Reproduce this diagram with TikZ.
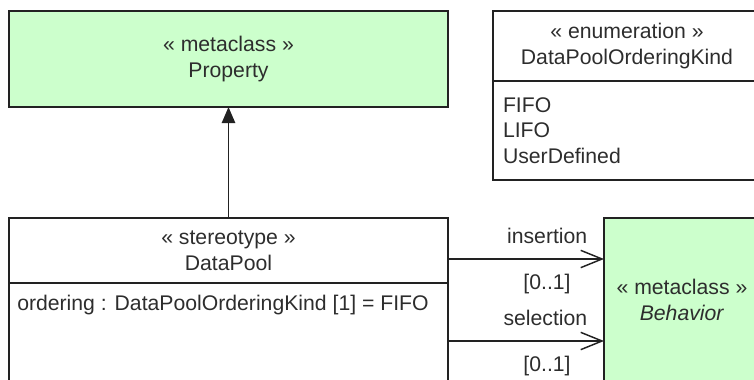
\documentclass[tikz,border=0pt]{standalone}
\usepackage{fontspec}
\setmainfont{Liberation Sans}
\usepackage{tikz}
\usetikzlibrary{arrows.meta,calc,positioning}
\usepackage{xcolor}

\definecolor{umlgreen}{RGB}{204,255,204}
\definecolor{umlline}{RGB}{34,34,34}
\definecolor{umltext}{RGB}{45,45,45}

\begin{document}
\begin{tikzpicture}[x=0.75pt, y=-0.75pt,
  every node/.style={font=\fontsize{15.9pt}{19.2pt}\selectfont, text=umltext},
  box/.style={draw=umlline, line width=1.1pt, inner sep=0pt, outer sep=0pt, align=center},
  meta/.style={box, fill=umlgreen},
  gen/.style={draw=umlline, line width=1.1pt, -{Triangle[length=12pt,width=10pt]}},
  assoc/.style={draw=umlline, line width=1.1pt, -{Straight Barb[length=16pt,width=13pt]}},
  role/.style={inner sep=0pt, anchor=base east, xshift=-12pt, yshift=11.5pt},
  mult/.style={inner sep=0pt, anchor=north, yshift=-10.5pt}]

\useasboundingbox (0,0) rectangle (754,379);
\clip (0,0) rectangle (754,379);

% --- Metaclass Property (in alto a sinistra) ---
\node[meta, minimum width=329.25pt, minimum height=72pt] (prop) at (228.5,59)
      {« metaclass »\\Property};

% --- Enumerazione ---
\node[box, minimum width=201pt, minimum height=52.5pt] (enumhead) at (627,46)
      {« enumeration »\\DataPoolOrderingKind};
\node[box, minimum width=201pt, minimum height=74.25pt, below=0pt of enumhead,
      text width=186pt, inner xsep=7.5pt, align=left] (enumbody)
      {FIFO\\LIFO\\UserDefined};

% --- Stereotipo DataPool ---
\node[box, minimum width=329.25pt, minimum height=48.75pt] (dphead) at (228.5,250.5)
      {« stereotype »\\DataPool};
\node[box, minimum width=329.25pt, minimum height=87.75pt, below=0pt of dphead] (dpbody) {};
\node[inner sep=0pt, anchor=base west] (dpattr) at ($(dpbody.north west)+(8,27)$)
      {ordering : DataPoolOrderingKind [1] = FIFO};

% --- Metaclass Behavior ---
\node[meta, minimum width=117pt, minimum height=123pt] (beh) at (682,300)
      {« metaclass »\\\textit{Behavior}};

% generalizzazione
\draw[gen] (dphead.north) -- (prop.south);

% associazioni
\draw[assoc] ($(dphead.north east)+(0,41)$)
  -- node[mult, pos=0.635] (insmult) {[0..1]} node[role, pos=1] (insrole) {insertion}
  ($(beh.north west)+(0,41)$);
\draw[assoc] ($(dphead.north east)+(0,123)$)
  -- node[mult, pos=0.635] (selmult) {[0..1]} node[role, pos=1] (selrole) {selection}
  ($(beh.north west)+(0,123)$);

\end{tikzpicture}
\end{document}
